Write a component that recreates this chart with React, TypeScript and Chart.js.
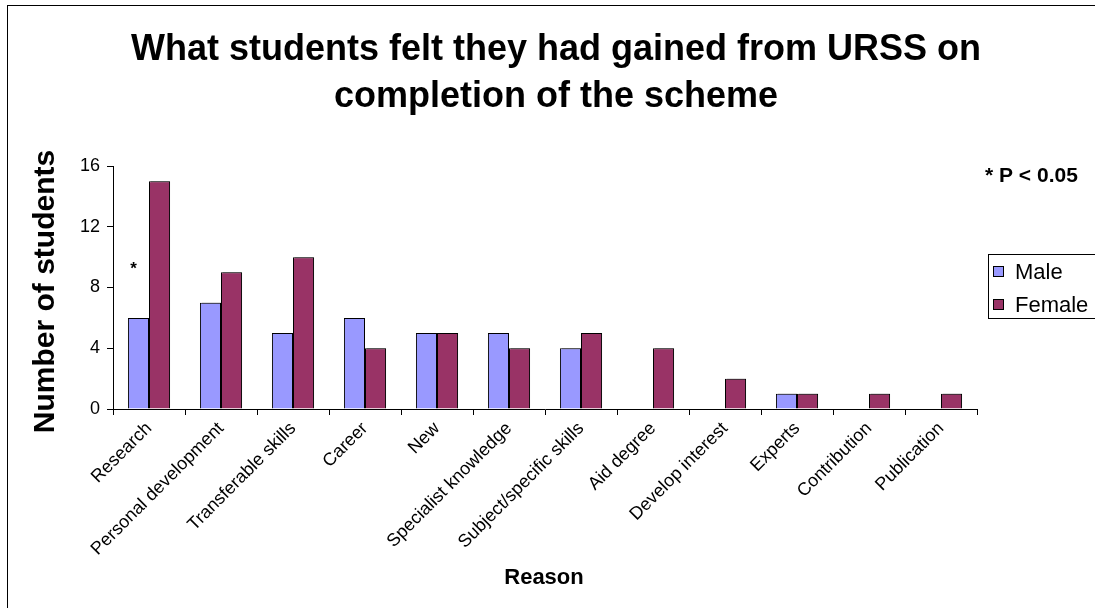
import React, { useEffect, useRef } from "react";
import { Chart, registerables } from "chart.js";

Chart.register(...registerables);

const categories = [
  "Research",
  "Personal development",
  "Transferable skills",
  "Career",
  "New",
  "Specialist knowledge",
  "Subject/specific skills",
  "Aid degree",
  "Develop interest",
  "Experts",
  "Contribution",
  "Publication",
];
const maleValues = [6, 7, 5, 6, 5, 5, 4, 0, 0, 1, 0, 0];
const femaleValues = [15, 9, 10, 4, 5, 4, 5, 4, 2, 1, 1, 1];
const yTicks = [0, 4, 8, 12, 16];
const titleLines = ["What students felt they had gained from URSS on", "completion of the scheme"];
const yTitle = "Number of students";
const xTitle = "Reason";
const noteText = "* P < 0.05";
const significantIndex = 0;
const asteriskValue = 9.4;

const MALE = "#9999FF";
const FEMALE = "#993366";
const FONT = "Arial, 'Liberation Sans', sans-serif";

const decorPlugin = {
  id: "decor",
  beforeDatasetsDraw(chart: any) {
    const ctx = chart.ctx;
    ctx.save();
    ctx.shadowColor = "rgba(0,0,0,0.3)";
    ctx.shadowOffsetX = 2;
    ctx.shadowOffsetY = -1;
    ctx.shadowBlur = 0;
  },
  afterDatasetsDraw(chart: any) {
    chart.ctx.restore();
  },
  afterDraw(chart: any) {
    const ctx = chart.ctx;
    const area = chart.chartArea;
    ctx.save();
    // outer border
    ctx.strokeStyle = "#000";
    ctx.lineWidth = 1;
    ctx.strokeRect(7.5, 5.5, 2000, 2000);
    ctx.fillStyle = "#000";
    // title
    ctx.font = `bold 36px ${FONT}`;
    ctx.textAlign = "center";
    ctx.textBaseline = "middle";
    titleLines.forEach((l, i) => ctx.fillText(l, 556, 50 + i * 47));
    // y title
    ctx.save();
    ctx.translate(46, (area.top + area.bottom) / 2 + 4);
    ctx.rotate(-Math.PI / 2);
    ctx.font = `bold 30px ${FONT}`;
    ctx.fillText(yTitle, 0, 0);
    ctx.restore();
    // x title
    ctx.font = `bold 22px ${FONT}`;
    ctx.fillText(xTitle, 544, 578);
    // note
    ctx.textAlign = "left";
    ctx.font = `bold 21px ${FONT}`;
    ctx.fillText(noteText, 985, 176);
    // asterisk
    const meta = chart.getDatasetMeta(0);
    const bar = meta.data[significantIndex];
    ctx.textAlign = "center";
    ctx.font = `bold 17px ${FONT}`;
    ctx.fillText("*", bar.x - 5, chart.scales.y.getPixelForValue(asteriskValue) + 3);
    // legend
    const lx = 988, ly = 254, lw = 200, lh = 64;
    ctx.fillStyle = "#fff";
    ctx.fillRect(lx, ly, lw, lh);
    ctx.strokeStyle = "#000";
    ctx.strokeRect(lx + 0.5, ly + 0.5, lw, lh);
    chart.data.datasets.forEach((ds: any, i: number) => {
      const cy = 272 + i * 33;
      ctx.fillStyle = ds.backgroundColor;
      ctx.fillRect(993, cy - 5, 10, 10);
      ctx.strokeStyle = "#000";
      ctx.strokeRect(993.5, cy - 5.5, 10, 10);
      ctx.fillStyle = "#000";
      ctx.textAlign = "left";
      ctx.font = `22px ${FONT}`;
      ctx.fillText(ds.label, 1015, cy + 1);
    });
    ctx.restore();
  },
};

export default function App() {
  const ref = useRef<HTMLCanvasElement>(null);
  useEffect(() => {
    const chart = new Chart(ref.current!, {
      type: "bar",
      data: {
        labels: categories,
        datasets: [
          {
            label: "Male",
            data: maleValues,
            backgroundColor: MALE,
            borderColor: "#000",
            borderWidth: 1,
            barPercentage: 1,
            categoryPercentage: 0.585,
          },
          {
            label: "Female",
            data: femaleValues,
            backgroundColor: FEMALE,
            borderColor: "#000",
            borderWidth: 1,
            barPercentage: 1,
            categoryPercentage: 0.585,
          },
        ],
      },
      options: {
        responsive: false,
        animation: false,
        events: [],
        layout: { padding: { left: 0, top: 166, right: 118, bottom: 0 } },
        plugins: {
          legend: { display: false },
          title: { display: false },
          tooltip: { enabled: false },
        },
        scales: {
          x: {
            offset: true,
            grid: {
              offset: true,
              drawOnChartArea: false,
              drawTicks: true,
              tickLength: 6,
              tickColor: "#000",
            },
            border: { color: "#000", width: 1 },
            ticks: {
              color: "#000",
              font: { family: FONT, size: 18 },
              minRotation: 45,
              maxRotation: 45,
              padding: 3,
              autoSkip: false,
            },
            afterFit: (s: any) => {
              s.height = 608 - 409;
            },
          },
          y: {
            min: 0,
            max: 16,
            afterBuildTicks: (s: any) => {
              s.ticks = yTicks.map((v) => ({ value: v }));
            },
            grid: {
              drawOnChartArea: false,
              drawTicks: true,
              tickLength: 6,
              tickColor: "#000",
            },
            border: { color: "#000", width: 1 },
            ticks: {
              color: "#000",
              font: { family: FONT, size: 18 },
              padding: 7,
            },
            afterFit: (s: any) => {
              s.width = 113;
            },
          },
        },
      },
      plugins: [decorPlugin],
    });
    return () => chart.destroy();
  }, []);
  return (
    <div style={{ position: "fixed", left: 0, top: 0, width: 1095, height: 608, background: "#fff" }}>
      <canvas ref={ref} width={1095} height={608} />
    </div>
  );
}
